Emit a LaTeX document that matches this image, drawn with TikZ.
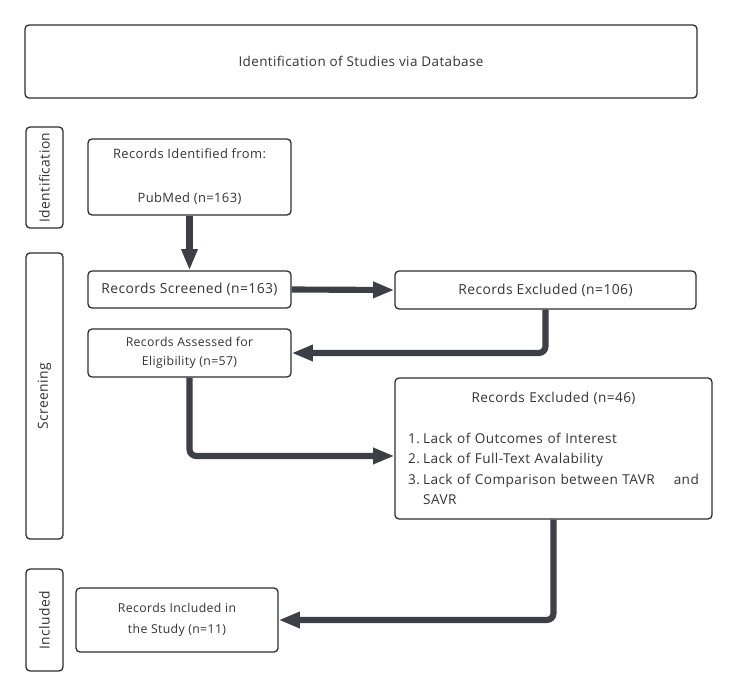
\documentclass[tikz,border=0pt]{standalone}
\usepackage{fontspec}
\setmainfont{Open Sans}[LetterSpace=3]
\usetikzlibrary{arrows.meta,calc}
\definecolor{txt}{HTML}{333436}
\definecolor{edge}{HTML}{2B2D30}
\definecolor{arr}{HTML}{3C4046}
\tikzset{
  box/.style={draw=edge, line width=0.95pt, rounded corners=3pt, fill=white,
    text=txt, align=center, inner sep=0pt, font=\fontsize{10.4}{16}\selectfont},
  side/.style={box, minimum width=27.75pt},
  flow/.style={draw=arr, line width=4.6pt, rounded corners=5pt,
    -{Triangle[length=16pt,width=11.5pt]}},
}
\begin{document}
\begin{tikzpicture}[x=0.75pt,y=-0.75pt]
\useasboundingbox (0,0) rectangle (750,696);
\fill[white] (0,0) rectangle (750,696);

\node[box, minimum width=504pt, minimum height=54.75pt, font=\fontsize{10.1}{12}\selectfont]
  (top) at (361,61.5) {Identification of Studies via Database};

\node[side, minimum height=75.75pt] (sid) at (44.5,177.5) {\rotatebox{90}{Identification}};
\node[side, minimum height=214.5pt] (sscr) at (44.5,396) {\rotatebox{90}{Screening}};
\node[side, minimum height=76.5pt] (sinc) at (44.5,620) {\rotatebox{90}{Included}};

\node[box, minimum width=152.25pt, minimum height=57pt, font=\fontsize{9.7}{16.5}\selectfont]
  (recid) at (189.5,177) {Records Identified from:\\[16.5pt]PubMed (n=163)};
\node[box, minimum width=152.25pt, minimum height=27.75pt]
  (scr) at (189.5,289.5) {Records Screened (n=163)};
\node[box, minimum width=225.75pt, minimum height=28.5pt]
  (exc1) at (545.5,290) {Records Excluded (n=106)};
\node[box, minimum width=152.25pt, minimum height=36pt, font=\fontsize{9.2}{14.2}\selectfont]
  (ass) at (189.5,353) {Records Assessed for\\Eligibility (n=57)};
\node[box, minimum width=237.75pt, minimum height=105.75pt, align=left,
  text width=218pt, inner xsep=9.75pt, font=\fontsize{10.2}{15.4}\selectfont]
  (exc2) at (553.5,448.5) {\hfill Records Excluded (n=46)\hfill\hbox{}\\[15.4pt]
  \makebox[11.25pt][l]{1.}Lack of Outcomes of Interest\\
  \makebox[11.25pt][l]{2.}Lack of Full-Text Avalability\\
  \makebox[11.25pt][l]{3.}Lack of Comparison between TAVR\hfill and\\
  \hspace*{11.25pt}SAVR};
\node[box, minimum width=151.5pt, minimum height=48pt, font=\fontsize{9.2}{15.7}\selectfont]
  (inc) at (177,620) {Records Included in\\the Study (n=11)};

\draw[flow] (recid.south) -- (scr.north);
\draw[flow] (scr.east) -- (exc1.west);
\draw[flow] (exc1.south) |- (ass.east);
\draw[flow] (ass.south) |- ([yshift=-5.6pt]exc2.west);
\draw[flow] (exc2.south) |- (inc.east);
\end{tikzpicture}
\end{document}
